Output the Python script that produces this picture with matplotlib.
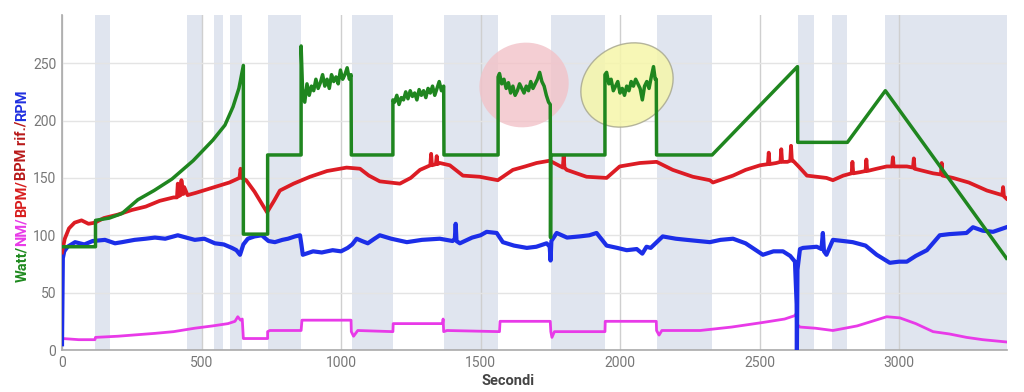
import numpy as np
import matplotlib
matplotlib.use("Agg")
import matplotlib.pyplot as plt
from matplotlib.patches import Ellipse
from matplotlib.transforms import ScaledTranslation

# ---------------- data ----------------
band_start = [118, 448, 545, 602, 738, 1039, 1369, 1753, 2133, 2638, 2760, 2950]
band_end = [172, 502, 577, 645, 857, 1186, 1563, 1946, 2330, 2695, 2814, 3387]

watt_t = [0, 120, 120, 170, 215, 272, 330, 394, 470, 541, 584, 613, 634, 650,
          650, 737, 737, 857, 857,
          862, 870, 878, 886, 894, 902, 910, 918, 926, 934, 942, 950, 958, 966, 974, 982,
          990, 998, 1006, 1014, 1022, 1030, 1036,
          1037, 1186, 1186,
          1192, 1200, 1208, 1216, 1224, 1232, 1240, 1248, 1256, 1264, 1272, 1280, 1288,
          1296, 1304, 1312, 1320, 1328, 1336, 1344, 1352, 1360, 1368,
          1369, 1563, 1563,
          1568, 1576, 1584, 1592, 1600, 1608, 1616, 1624, 1632, 1640, 1648, 1656, 1664,
          1672, 1680, 1688, 1696, 1704, 1712, 1720, 1728, 1736, 1744, 1750,
          1751, 1752, 1946, 1946,
          1952, 1960, 1968, 1976, 1984, 1992, 2000, 2008, 2016, 2024, 2032, 2040, 2048,
          2056, 2064, 2072, 2080, 2088, 2096, 2104, 2112, 2120, 2126, 2130,
          2131, 2330, 2636, 2637, 2815, 2951, 3385]
watt_v = [90, 90, 113, 115, 119, 131, 139, 149, 165, 183, 196, 212, 228, 248,
          101, 101, 170, 170, 265,
          228, 216, 232, 222, 230, 226, 236, 228, 233, 240, 230, 236, 228, 240, 234, 238,
          232, 244, 236, 240, 246, 236, 240,
          170, 170, 218,
          216, 222, 214, 220, 218, 225, 219, 226, 221, 224, 218, 227, 222,
          226, 220, 228, 224, 230, 222, 228, 234, 226, 230,
          170, 170, 238,
          241, 232, 236, 228, 233, 224, 230, 222, 226, 232, 228, 224, 230,
          226, 234, 228, 232, 236, 242, 234, 230, 222, 216, 214,
          98, 170, 170, 240,
          242, 232, 236, 226, 230, 234, 224, 228, 222, 230, 226, 234, 230,
          236, 232, 228, 218, 230, 234, 228, 238, 247, 236, 236,
          170, 170, 247, 181, 181, 226, 80]

bpm_t = [0, 10, 25, 45, 70, 95, 118, 150, 200, 250, 300, 350, 400, 412, 415, 418,
         425, 428, 435, 438, 450, 480, 520, 560, 600, 636, 640, 644, 660, 690, 735,
         760, 781, 830, 889, 950, 1020, 1068, 1100, 1139, 1211, 1250, 1283, 1320,
         1323, 1326, 1340, 1343, 1346, 1354, 1390, 1437, 1497, 1540, 1562, 1616, 1660,
         1701, 1748, 1795, 1798, 1801, 1809, 1880, 1952, 1999, 2071, 2131, 2189, 2261,
         2322, 2333, 2405, 2450, 2502, 2530, 2533, 2536, 2560, 2575, 2578, 2581, 2600,
         2610, 2613, 2616, 2620, 2640, 2670, 2740, 2763, 2800, 2830, 2833, 2836, 2860,
         2880, 2883, 2886, 2920, 2956, 2975, 2978, 2981, 3028, 3050, 3053, 3056, 3122,
         3150, 3153, 3156, 3193, 3250, 3315, 3370, 3373, 3376, 3385]
bpm_v = [85, 97, 106, 111, 113, 110, 111, 115, 118, 122, 125, 130, 133, 133, 145, 134,
         135, 148, 136, 142, 135, 137, 140, 143, 146, 150, 158, 150, 148, 138, 120,
         130, 139, 145, 151, 156, 159, 158, 152, 147, 145, 150, 157, 161,
         171, 161, 162, 169, 162, 163, 161, 152, 151, 149, 148, 157, 160,
         163, 165, 159, 169, 159, 157, 151, 150, 160, 163, 164, 157, 151,
         148, 146, 152, 157, 161, 162, 172, 162, 163, 164, 175, 164, 164,
         165, 178, 165, 165, 160, 152, 150, 148, 152, 154, 164, 154, 155,
         156, 166, 156, 158, 160, 160, 168, 160, 160, 159, 167, 158, 154,
         153, 163, 152, 150, 146, 139, 135, 142, 134, 132]

rpm_t = [0, 3, 8, 20, 47, 80, 110, 154, 190, 215, 260, 300, 333, 370, 415, 445,
         476, 510, 548, 580, 609, 625, 638, 650, 666, 690, 716, 740, 763, 790, 810,
         835, 853, 858, 863, 900, 931, 970, 1000, 1024, 1040, 1056, 1075, 1096, 1120,
         1139, 1180, 1236, 1290, 1354, 1400, 1408, 1411, 1414, 1426, 1470, 1500, 1522,
         1558, 1580, 1620, 1666, 1700, 1737, 1748, 1751, 1754, 1773, 1810, 1855, 1890,
         1916, 1952, 1990, 2024, 2060, 2080, 2095, 2110, 2153, 2200, 2239, 2280, 2322,
         2360, 2405, 2450, 2512, 2550, 2584, 2610, 2627, 2633, 2634, 2636, 2645, 2656,
         2705, 2722, 2727, 2731, 2740, 2763, 2800, 2834, 2880, 2920, 2967, 3000, 3028,
         3060, 3100, 3146, 3180, 3242, 3265, 3300, 3337, 3385]
rpm_v = [5, 80, 86, 90, 94, 92, 95, 96, 93, 94, 96, 97, 98, 97, 100, 98,
         96, 97, 93, 92, 89, 87, 83, 92, 97, 99, 100, 95, 94, 96, 97,
         99, 100, 92, 83, 86, 85, 87, 86, 89, 92, 97, 95, 93, 97,
         100, 97, 94, 96, 97, 95, 97, 110, 95, 93, 98, 100, 103,
         102, 94, 91, 89, 90, 93, 90, 78, 95, 102, 98, 99, 100,
         102, 91, 89, 87, 88, 84, 90, 89, 99, 97, 96, 95, 94,
         96, 97, 93, 83, 86, 86, 82, 77, 40, 0, 70, 88, 89,
         90, 88, 102, 86, 83, 96, 95, 94, 91, 83, 76, 77, 77,
         82, 87, 100, 101, 102, 107, 104, 103, 107]

nm_t = [0, 2, 60, 118, 120, 200, 333, 400, 476, 540, 595, 620, 630, 640, 646, 650,
        737, 737, 745, 857, 860, 1036, 1037, 1045, 1060, 1186, 1187, 1364, 1366, 1368,
        1380, 1568, 1570, 1750, 1752, 1756, 1765, 1946, 1947, 2130, 2131, 2140, 2150,
        2287, 2400, 2512, 2590, 2627, 2632, 2634, 2636, 2645, 2700, 2763, 2850, 2956,
        3003, 3060, 3122, 3180, 3242, 3300, 3385]
nm_v = [20, 10, 9, 9, 11, 12, 14.5, 16, 19, 21, 23, 25, 29, 26, 27, 10,
        10, 16, 17, 17, 26, 26, 16, 12, 17, 16, 23, 23, 27, 16,
        17, 16, 25, 25, 16, 11, 16, 16, 25, 25, 17, 13, 17,
        17, 20, 24, 27, 30, 32, 0, 22, 20, 19, 17, 21, 29,
        28, 23, 16, 14, 11, 9, 7]

x_ticks = [0, 500, 1000, 1500, 2000, 2500, 3000]
y_ticks = [0, 50, 100, 150, 200, 250]

# ---------------- figure ----------------
plt.rcParams['font.family'] = ['Roboto', 'DejaVu Sans']
fig = plt.figure(figsize=(10.24, 3.92), dpi=100)
ax = fig.add_axes([62 / 1024, 1 - 350 / 392, (1007 - 62) / 1024, (350 - 15) / 392])
ax.set_xlim(0, 3387)
ax.set_ylim(0, 292)

for s, e in zip(band_start, band_end):
    ax.axvspan(s, e, color='#e0e5ef', lw=0, zorder=0)

ax.set_yticks(y_ticks)
ax.set_xticks(x_ticks)
ax.grid(axis='y', color='#e4e4e4', lw=1, zorder=0.5)
ax.grid(axis='x', color='#cfcfcf', lw=1, zorder=0.5)
ax.set_axisbelow(True)
ax.tick_params(length=0, labelsize=10, labelcolor='#777777', pad=4)
for sp in ['top', 'right']:
    ax.spines[sp].set_visible(False)
for sp in ['left', 'bottom']:
    ax.spines[sp].set_color('#aaaaaa')
    ax.spines[sp].set_linewidth(1.2)

# highlight ellipses (sizes in inches on the figure)
e1 = Ellipse((0, 0), 0.90, 0.84, angle=20,
             transform=fig.dpi_scale_trans + ScaledTranslation(1656, 231, ax.transData),
             facecolor='#f2c2c8', edgecolor='none', alpha=0.8, zorder=1)
e2 = Ellipse((0, 0), 0.96, 0.80, angle=30,
             transform=fig.dpi_scale_trans + ScaledTranslation(2025, 231, ax.transData),
             facecolor='#f6f6aa', edgecolor='#a8a890', lw=1.0, alpha=0.85, zorder=1)
ax.add_patch(e1)
ax.add_patch(e2)

ax.plot(nm_t, nm_v, color='#e83ae8', lw=2.0, zorder=2)
ax.plot(rpm_t, rpm_v, color='#1c2ee8', lw=3.0, zorder=3)
ax.plot(bpm_t, bpm_v, color='#dc1c24', lw=2.7, zorder=4)
ax.plot(watt_t, watt_v, color='#1f861f', lw=2.5, zorder=5)

fig.text(508 / 1024, 1 - 381 / 392, 'Secondi', ha='center', va='center',
         fontsize=10.5, fontweight='bold', color='#444444')

# multi-colored y label
pieces = [("Watt/", "#1f8a1f"), ("NM/", "#e83ae8"), ("BPM/", "#d81e1e"),
          ("BPM rif./", "#b81a1a"), ("RPM", "#2030e0")]
fig.canvas.draw()
rend = fig.canvas.get_renderer()
ypos = 1 - 282 / 392
for s, c in pieces:
    t = fig.text(22 / 1024, ypos, s, rotation=90, color=c, fontsize=10.5,
                 fontweight='bold', ha='center', va='bottom')
    bb = t.get_window_extent(renderer=rend)
    ypos += bb.height / fig.bbox.height

fig.savefig('out.png', dpi=100)
